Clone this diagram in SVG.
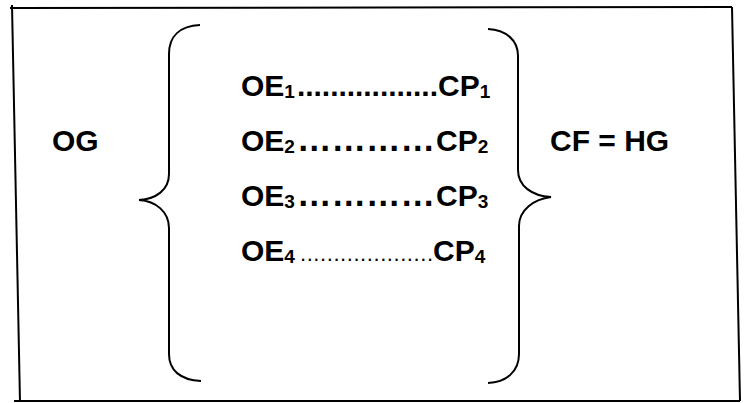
<svg xmlns="http://www.w3.org/2000/svg" width="744" height="403" viewBox="0 0 744 403">
  <style>
    .frame { fill: none; stroke: #000; stroke-width: 2; }
    .brace { fill: none; stroke: #000; stroke-width: 2; }
    .t { font-family: "Liberation Sans", Arial, sans-serif; font-weight: bold; font-size: 30px; fill: #000; }
    .sub { font-size: 19px; }
    .ell { font-size: 34.5px; }
    .dots4 { font-family: "Liberation Sans", Arial, sans-serif; font-weight: normal; font-size: 22px; fill: #000; }
  </style>
  <rect x="0" y="0" width="744" height="403" fill="#fff"/>
  <g id="frame">
    <path class="frame" d="M10,8 L732,7"/>
    <path class="frame" d="M12,5 L20,402"/>
    <path class="frame" d="M14,401 L740,401"/>
    <path class="frame" d="M732,7 L740,401"/>
  </g>
  <g id="connectors">
    <path id="brace-left" class="brace" d="M200,25 C180,26 169,36 169,54 L169,174 C169,190 156,199 139,200 C156,201 169,212 169,228 L169,354 C169,370 180,380 201,381"/>
    <path id="brace-right" class="brace" d="M488,29 C506,30 518,40 518,56 L518,170 C518,186 532,196 551,197 C534,199 519,210 519,226 L519,354 C519,372 506,382 488,383"/>
  </g>
  <g id="node-og">
    <text class="t" x="52" y="151">OG</text>
  </g>
  <g id="node-row1">
    <text class="t" x="241" y="96">OE<tspan class="sub" dy="2">1</tspan><tspan dy="-2" x="297" textLength="141" lengthAdjust="spacing">.................</tspan><tspan x="438">CP</tspan><tspan class="sub" dy="2">1</tspan></text>
  </g>
  <g id="node-row2">
    <text class="t" x="241" y="151">OE<tspan class="sub" dy="2">2</tspan><tspan class="ell" dy="-2" x="297">…………</tspan><tspan x="436">CP</tspan><tspan class="sub" dy="2">2</tspan></text>
  </g>
  <g id="node-row3">
    <text class="t" x="241" y="206">OE<tspan class="sub" dy="2">3</tspan><tspan class="ell" dy="-2" x="297">…………</tspan><tspan x="436">CP</tspan><tspan class="sub" dy="2">3</tspan></text>
  </g>
  <g id="node-row4">
    <text class="t" x="241" y="261">OE<tspan class="sub" dy="2">4</tspan><tspan class="dots4" dy="-2" x="300" textLength="133" lengthAdjust="spacing">....................</tspan><tspan x="433">CP</tspan><tspan class="sub" dy="2">4</tspan></text>
  </g>
  <g id="node-cf">
    <text class="t" x="550" y="151">CF = HG</text>
  </g>
</svg>
